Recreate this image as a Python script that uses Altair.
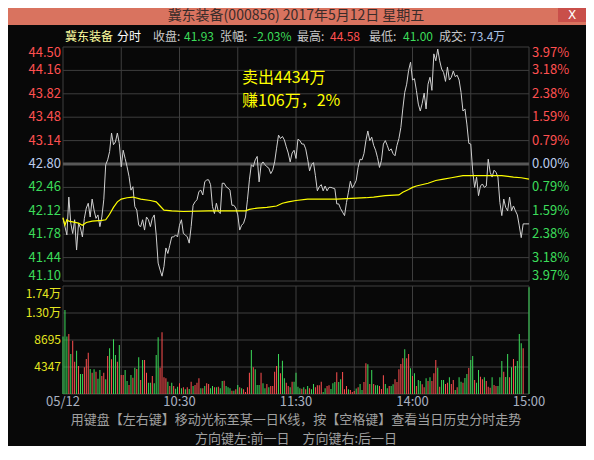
import altair as alt
import pandas as pd

FONT = "Noto Sans CJK SC"

# ---------------- data ----------------
prev_close = 42.80
title_text = "冀东装备(000856) 2017年5月12日 星期五"

# minute-by-minute price (09:30 .. 15:00, 241 points)
price = [
    42.01, 41.89, 41.77, 42.32, 41.94, 41.79, 41.99, 41.55, 41.94, 41.87,
    41.74, 42.01, 42.16, 42.23, 42.03, 42.29, 42.13, 42.01, 42.06, 41.89,
    42.03, 42.28, 42.79, 42.86, 42.98, 43.25, 43.08, 43.12, 43.25, 43.10,
    42.76, 43.00, 42.88, 42.76, 42.62, 42.42, 42.47, 42.18, 42.13, 41.91,
    41.89, 41.99, 41.84, 42.03, 41.99, 41.89, 42.01, 42.06, 41.77, 41.36,
    41.26, 41.17, 41.31, 41.58, 41.50, 41.62, 41.74, 41.74, 41.77, 41.74,
    41.91, 41.99, 41.79, 41.77, 41.74, 41.65, 41.89, 42.20, 42.25, 42.28,
    42.40, 42.42, 42.35, 42.54, 42.57, 42.57, 42.50, 42.18, 42.08, 42.23,
    42.11, 42.08, 42.52, 42.52, 42.47, 42.45, 42.42, 42.20, 42.20, 42.16,
    42.06, 41.84, 41.91, 41.94, 42.03, 42.28, 42.57, 42.79, 42.76, 42.86,
    42.91, 42.54, 42.79, 42.83, 42.79, 42.76, 42.74, 42.66, 42.71, 42.83,
    43.03, 43.22, 43.17, 43.20, 43.15, 43.05, 42.96, 42.83, 42.96, 43.00,
    42.88, 43.16, 43.14, 43.09, 43.09, 43.02, 42.87, 42.70, 42.79, 42.82,
    42.63, 42.41, 42.47, 42.50, 42.41, 42.48, 42.41, 42.46, 42.46, 42.45,
    42.44, 42.22, 42.22, 42.15, 42.10, 42.05, 42.24, 42.39, 42.55, 42.45,
    42.50, 42.56, 42.75, 42.87, 42.86, 42.95, 43.14, 43.28, 43.14, 43.19,
    43.07, 43.00, 42.89, 42.75, 42.85, 43.09, 43.14, 43.07, 42.99, 43.02,
    42.95, 42.92, 43.07, 43.17, 43.33, 43.60, 43.84, 43.96, 44.16, 44.28,
    44.02, 44.04, 43.87, 43.67, 43.57, 43.68, 43.83, 43.60, 43.96, 44.06,
    43.87, 44.40, 44.30, 44.47, 44.30, 44.18, 44.13, 44.00, 44.21, 44.02,
    44.06, 44.15, 44.07, 44.09, 44.02, 43.84, 43.57, 43.60, 43.38, 43.10,
    43.09, 42.70, 42.46, 42.61, 42.34, 42.48, 42.51, 42.46, 42.48, 42.87,
    42.68, 42.61, 42.71, 42.68, 42.61, 42.24, 42.05, 42.29, 42.17, 42.12,
    42.32, 42.12, 42.19, 42.12, 42.06, 41.90, 41.73, 41.93, 41.93, 41.93,
    41.93,
]

# average price line
avg_min = [0, 1, 2, 3, 5, 8, 10, 12, 15, 20, 22, 24, 26, 28, 30, 33, 36, 40, 45, 48,
           50, 52, 56, 62, 75, 94, 96, 100, 105, 110, 113, 116, 120, 126, 141, 156,
           160, 166, 173, 175, 178, 180, 182, 188, 192, 196, 200, 206, 212, 220,
           226, 232, 236, 240]
avg_val = [42.02, 41.91, 41.99, 41.97, 41.96, 41.94, 41.91, 41.95, 41.97, 41.98,
           41.99, 42.07, 42.17, 42.25, 42.29, 42.31, 42.32, 42.29, 42.27, 42.25,
           42.19, 42.13, 42.12, 42.11, 42.12, 42.12, 42.14, 42.16, 42.17, 42.19,
           42.23, 42.25, 42.27, 42.29, 42.29, 42.31, 42.32, 42.34, 42.35, 42.39,
           42.43, 42.46, 42.48, 42.52, 42.56, 42.58, 42.60, 42.63, 42.63, 42.63,
           42.63, 42.61, 42.60, 42.58]

# volume per minute (shares), morning then afternoon
vol_am = [
    9240, 13530, 9240, 9670, 6440, 8590, 5210, 6980, 4510, 3220,
    3220, 4300, 5640, 6660, 4030, 3440, 3970, 3600, 2470, 3870,
    2900, 3440, 2360, 6120, 7360, 5590, 8810, 6280, 5210, 7890,
    3060, 3060, 3870, 2090, 1450, 3060, 2630, 4240, 4030, 5910,
    2260, 5480, 5480, 3440, 1830, 1830, 2900, 1720, 6280, 9130,
    4240, 9940, 2690, 2520, 1990, 1290, 1830, 1290, 860, 1180,
    1720, 910, 1070, 750, 1070, 810, 1990, 1290, 1450, 1830,
    2520, 910, 910, 1290, 1720, 1610, 910, 1290, 1070, 1070,
    1180, 910, 2090, 2150, 1290, 1070, 910, 540, 540, 750,
    1450, 1070, 910, 750, 320, 1070, 3440, 7090, 4300, 3970,
    1450, 1450, 3440, 1720, 910, 1610, 1070, 1290, 1290, 3600,
    4510, 6440, 3330, 5370, 2520, 1830, 1290, 1070, 1990, 1990,
    3440,
]
vol_pm = [
    1180, 910, 860, 1070, 750, 1290, 910, 750, 1610, 1070,
    1400, 1400, 1990, 320, 910, 1290, 1400, 810, 1720, 1930,
    3490, 1930, 2360, 3540, 750, 1290, 750, 640, 320, 480,
    900,
    1070, 1610, 640, 1930, 4940, 4780, 1610, 3870, 1610, 1400,
    1400, 1290, 810, 3010, 1610, 910, 1290, 1290, 1560, 2360,
    1930, 3970, 4830, 5750, 7200, 5750, 6440, 4140, 2900, 3330,
    1300,
    2260, 2090, 1560, 1070, 2520, 2090, 2690, 2090, 3330, 5480,
    4240, 1180, 2260, 2260, 1610, 1830, 2690, 1610, 2260, 640,
    1070, 2690, 1990, 1830, 2580, 3220, 4190, 5480, 6120, 2260,
    1800,
    3870, 2790, 2360, 2690, 2090, 1180, 1020, 2690, 1450, 1290,
    1290, 2690, 5320, 3600, 2740, 6440, 2690, 4300, 5640, 4510,
    5320, 9670, 8160, 7360,
    0, 0, 17180,
]
# r = up tick (red), g = down tick (green)
dir_am = list("gggrgrrgrg" "grrrgrgrgg" "rrgrgrggrg" "rrggrgrgrg" "rgrrggrggg"
              "rrrrgrgrgg" "rgrgrgrgrr" "rgrgrrggrg" "rggrgggrgr" "grgrrrrgrg"
              "ggrggrgrrr" "rgrggrrgrg" "g")
dir_pm = list("ggrgrgrggr" "rrrggrrggg" "rggrrrgrrr" "g"
              "rggrrgrgrg" "grrrggrggr" "rrrrgrrgrg" "r"
              "ggrrgrgrrr" "grggrrgrrg" "rggrggrggr" "g"
              "grrgrrrgrr" "gggrggrgrg" "gggr" "ggg")

price_ticks = [44.50, 44.16, 43.82, 43.48, 43.14, 42.80, 42.46, 42.12, 41.78, 41.44, 41.10]
pct_labels = ["3.97%", "3.18%", "2.38%", "1.59%", "0.79%", "0.00%",
              "0.79%", "1.59%", "2.38%", "3.18%", "3.97%"]
vol_ticks = [17390, 13043, 8695, 4347]
vol_labels = ["1.74万", "1.30万", "8695", "4347"]
vol_grid = [17390, 13042.5, 8695, 4347.5, 0]
time_ticks = [0, 60, 120, 180, 240]
time_labels = ["05/12", "10:30", "11:30", "14:00", "15:00"]
grid_minutes = [0, 30, 60, 90, 120, 150, 180, 210, 240]

header_items = ["冀东装备", "分时", "收盘:", "41.93", "张幅:", "-2.03%",
                "最高:", "44.58", "最低:", "41.00", "成交:", "73.4万"]
note_lines = ["卖出4434万", "赚106万，2%"]
footer_lines = ["用键盘【左右键】移动光标至某一日K线，按【空格键】查看当日历史分时走势",
                "方向键左:前一日　方向键右:后一日"]

# ---------------- style ----------------
SALMON = "#D9735F"
BLACK = "#080808"
GRID = "#3E3E3E"
MIDLINE = "#585858"
RED = "#FF5050"
GREEN = "#3CDC5A"
FLAT = "#BCCCEC"
PRICE_C = "#D0D0D0"
AVG_C = "#FFFF00"
VOL_LBL = "#E6E620"
TIME_C = "#A8B0C0"
FOOT_C = "#A0A0A0"

XS = alt.Scale(domain=[0, 240], range=[55, 521], nice=False, zero=False, padding=0)
PS = alt.Scale(domain=[41.10, 44.50], range=[256, 22], nice=False, zero=False, padding=0)
VS = alt.Scale(domain=[0, 17390], range=[369, 261], nice=False, zero=True, padding=0)
CS = alt.Scale(domain=["r", "g", "b"], range=[RED, GREEN, FLAT])


def xf(f):
    return alt.X(f, type="quantitative", scale=XS, axis=None)


def xd(v):
    return alt.XDatum(v, type="quantitative", scale=XS, axis=None)


def yp(f):
    return alt.Y(f, type="quantitative", scale=PS, axis=None)


def ypd(v):
    return alt.YDatum(v, type="quantitative", scale=PS, axis=None)


def yv(f):
    return alt.Y(f, type="quantitative", scale=VS, axis=None)


def yvd(v):
    return alt.YDatum(v, type="quantitative", scale=VS, axis=None)


one = pd.DataFrame({"k": [0]})

# ---------------- price panel ----------------
price_df = pd.DataFrame({"m": list(range(len(price))), "p": price})
avg_df = pd.DataFrame({"m": avg_min, "a": avg_val})
hgrid_df = pd.DataFrame({"p": [t for t in price_ticks if t != prev_close]})
vgrid_df = pd.DataFrame({"m": grid_minutes})
plbl_df = pd.DataFrame({"p": price_ticks, "pct": pct_labels})

p_hgrid = alt.Chart(hgrid_df).mark_rule(color=GRID, strokeWidth=1).encode(
    x=xd(0), x2=alt.X2Datum(240), y=yp("p"))
p_vgrid = alt.Chart(vgrid_df).mark_rule(color=GRID, strokeWidth=1).encode(
    x=xf("m"), y=ypd(41.10), y2=alt.Y2Datum(44.50))
p_mid = alt.Chart(one).mark_rule(color=MIDLINE, strokeWidth=3).encode(
    x=xd(0), x2=alt.X2Datum(240), y=ypd(prev_close))
p_line = alt.Chart(price_df).mark_line(color=PRICE_C, strokeWidth=1, interpolate="linear").encode(
    x=xf("m"), y=yp("p"))
a_line = alt.Chart(avg_df).mark_line(color=AVG_C, strokeWidth=1.2).encode(
    x=xf("m"), y=yp("a"))

side_expr = "datum.p > 42.8 ? 'r' : (datum.p < 42.8 ? 'g' : 'b')"
plbl_base = alt.Chart(plbl_df).transform_calculate(side=side_expr)
price_labels = []
for flt, dy in [("datum.p < 44.5 && datum.p > 41.1", 0), ("datum.p >= 44.5", 6), ("datum.p <= 41.1", -5)]:
    price_labels.append(
        plbl_base.transform_filter(flt).mark_text(
            align="right", baseline="middle", dx=-2, dy=dy, fontSize=13, font=FONT).encode(
            x=xd(0), y=yp("p"), text=alt.Text("p:Q", format=".2f"),
            color=alt.Color("side:N", scale=CS, legend=None)))
    price_labels.append(
        plbl_base.transform_filter(flt).mark_text(
            align="left", baseline="middle", dx=3, dy=dy, fontSize=13, font=FONT).encode(
            x=xd(240), y=yp("p"), text="pct:N",
            color=alt.Color("side:N", scale=CS, legend=None)))

price_panel = alt.layer(p_hgrid, p_vgrid, p_mid, p_line, a_line, *price_labels)

# ---------------- volume panel ----------------
vol = vol_am + vol_pm
vdir = dir_am + dir_pm
vol_df = pd.DataFrame({"m": list(range(len(vol))), "v": vol, "d": vdir})
vh_df = pd.DataFrame({"v": vol_grid})
vlbl_df = pd.DataFrame({"v": vol_ticks, "t": vol_labels})
time_df = pd.DataFrame({"m": time_ticks, "t": time_labels})

v_hgrid = alt.Chart(vh_df).mark_rule(color=GRID, strokeWidth=1).encode(
    x=xd(0), x2=alt.X2Datum(240), y=yv("v"))
v_vgrid = alt.Chart(vgrid_df).mark_rule(color=GRID, strokeWidth=1).encode(
    x=xf("m"), y=yvd(0), y2=alt.Y2Datum(17390))
v_bars = alt.Chart(vol_df).mark_bar(size=1).encode(
    x=xf("m"), y=yv("v"), color=alt.Color("d:N", scale=CS, legend=None))
v_lbl_top = alt.Chart(vlbl_df).transform_filter("datum.v >= 17390").mark_text(
    align="right", baseline="middle", dx=-2, dy=8, fontSize=12, font=FONT, color=VOL_LBL).encode(
    x=xd(0), y=yv("v"), text="t:N")
v_lbl = alt.Chart(vlbl_df).transform_filter("datum.v < 17390").mark_text(
    align="right", baseline="middle", dx=-2, fontSize=12, font=FONT, color=VOL_LBL).encode(
    x=xd(0), y=yv("v"), text="t:N")
t_lbl = alt.Chart(time_df).mark_text(
    align="center", baseline="middle", dy=8, fontSize=13, font=FONT, color=TIME_C).encode(
    x=xf("m"), y=yvd(0), text="t:N")
foot1 = alt.Chart(pd.DataFrame({"t": [footer_lines[0]]})).mark_text(
    align="center", baseline="middle", dy=26, fontSize=13, font=FONT, color=FOOT_C).encode(
    x=xd(120), y=yvd(0), text="t:N")
foot2 = alt.Chart(pd.DataFrame({"t": [footer_lines[1]]})).mark_text(
    align="center", baseline="middle", dy=45, fontSize=13, font=FONT, color=FOOT_C).encode(
    x=xd(120), y=yvd(0), text="t:N")

vol_panel = alt.layer(v_hgrid, v_vgrid, v_bars, v_lbl_top, v_lbl, t_lbl, foot1, foot2)

# ---------------- window decorations ----------------
title = alt.Chart(pd.DataFrame({"t": [title_text]})).mark_text(
    align="center", baseline="middle", fontSize=14, font=FONT, color="#3A2C2A").encode(
    x=alt.value(288), y=alt.value(-9), text="t:N")
close_box = alt.Chart(one).mark_rect(color="#C94F4A").encode(
    x=alt.value(550), x2=alt.value(578), y=alt.value(-17), y2=alt.value(-3))
close_x = alt.Chart(pd.DataFrame({"t": ["X"]})).mark_text(
    align="center", baseline="middle", fontSize=12, font="DejaVu Sans", color="#FFFFFF").encode(
    x=alt.value(564), y=alt.value(-10), text="t:N")

header_layout = [(57, "#FFFFA0"), (109, "#FFFFFF"), (145, "#C8C8C8"), (176, GREEN),
                 (212, "#C8C8C8"), (245, GREEN), (289, "#C8C8C8"), (322, RED),
                 (361, "#C8C8C8"), (395, GREEN), (431, "#C8C8C8"), (462, "#A8C0E4")]
header_marks = []
for txt, (hx, col) in zip(header_items, header_layout):
    header_marks.append(
        alt.Chart(pd.DataFrame({"t": [txt]})).mark_text(
            align="left", baseline="middle", fontSize=12, font=FONT, color=col).encode(
            x=alt.value(hx), y=alt.value(12), text="t:N"))

note_marks = []
for txt, ny in zip(note_lines, [53, 76]):
    note_marks.append(
        alt.Chart(pd.DataFrame({"t": [txt]})).mark_text(
            align="left", baseline="middle", fontSize=16, font=FONT, color=AVG_C).encode(
            x=alt.value(234), y=alt.value(ny), text="t:N"))

chart = alt.layer(
    price_panel, vol_panel, close_box, close_x, title, *header_marks, *note_marks
).resolve_scale(y="independent").properties(
    width=578, height=421,
    padding={"left": 0, "top": 0, "right": 0, "bottom": 0},
    background=SALMON,
).configure_view(fill=BLACK, stroke=None)

chart.save("out.html", embed_options={"renderer": "svg", "actions": False})
